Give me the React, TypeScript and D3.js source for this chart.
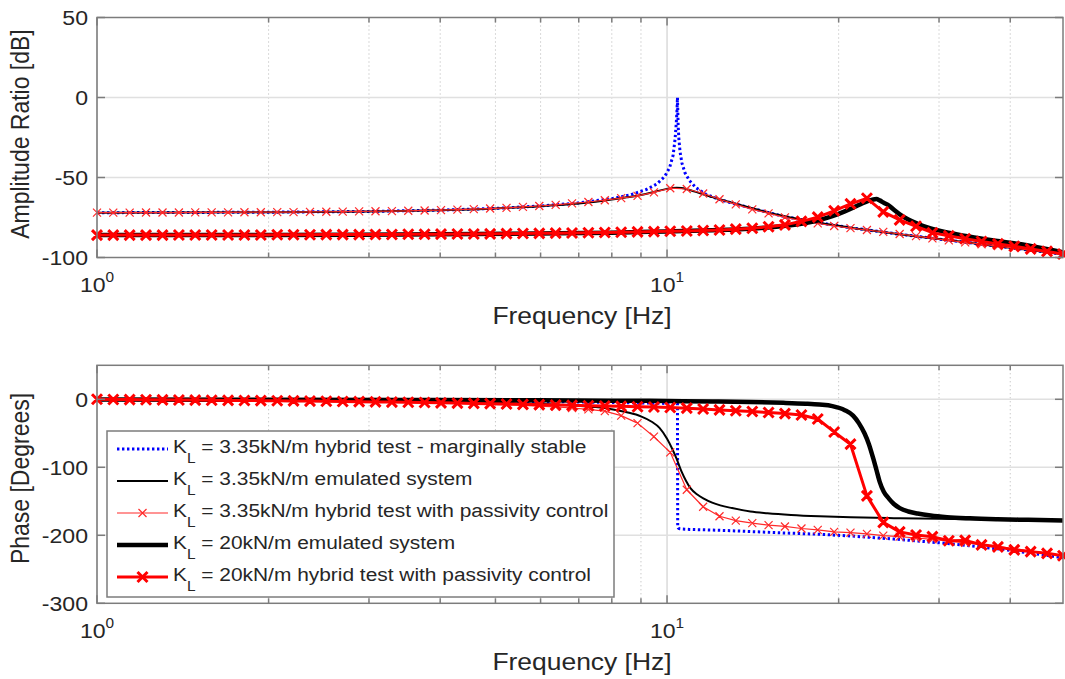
import React from 'react';
import * as d3 from 'd3';

// frequency points of the hybrid test runs [Hz]
const freqGrid = [
  1.0, 1.068, 1.141, 1.219, 1.303, 1.392, 1.487, 1.589, 1.698, 1.814,
  1.938, 2.071, 2.212, 2.364, 2.525, 2.698, 2.883, 3.08, 3.291, 3.516,
  3.756, 4.013, 4.288, 4.581, 4.894, 5.229, 5.587, 5.969, 6.377, 6.813,
  7.279, 7.777, 8.309, 8.877, 9.484, 10.13, 10.83, 11.57, 12.36, 13.2,
  14.11, 15.07, 16.1, 17.21, 18.38, 19.64, 20.98, 22.42, 23.95, 25.59,
  27.34, 29.21, 31.21, 33.34, 35.62, 38.06, 40.66, 43.44, 46.41, 49.5,
];

// KL = 3.35kN/m hybrid test with passivity control
const magPCLow = [
  -72.0, -72.0, -72.0, -71.9, -71.9, -71.9, -71.8, -71.8, -71.8, -71.7,
  -71.7, -71.6, -71.6, -71.5, -71.4, -71.3, -71.2, -71.1, -71.0, -70.8,
  -70.6, -70.4, -70.1, -69.8, -69.4, -69.0, -68.4, -67.8, -67.1, -66.2,
  -65.3, -64.2, -62.9, -61.5, -59.3, -56.7, -57.2, -60.0, -63.6, -66.8,
  -69.9, -72.4, -74.9, -77.0, -78.7, -80.3, -81.6, -82.8, -84.0, -85.3,
  -86.6, -88.0, -89.3, -90.5, -91.7, -92.9, -94.1, -95.4, -96.7, -98.0,
];
const phasePCLow = [
  0, -0.2, -0.4, -0.6, -0.8, -1.0, -1.2, -1.4, -1.6, -1.8,
  -2.0, -2.3, -2.6, -2.9, -3.2, -3.5, -3.8, -4.1, -4.5, -4.9,
  -5.3, -5.8, -6.3, -6.9, -7.5, -8.2, -9.0, -10.0, -11.2, -12.8,
  -14.8, -17.5, -24, -35, -55, -78, -133, -158, -172, -178.5,
  -182, -185, -187, -190, -192, -195, -196, -198, -200.5, -202,
  -204, -206, -208.5, -211, -213.5, -216.5, -219.5, -223, -226.5, -230,
];

// KL = 20kN/m hybrid test with passivity control
const magPCHigh = [
  -86.0, -86.0, -86.0, -86.0, -86.0, -85.9, -85.9, -85.9, -85.9, -85.9,
  -85.9, -85.8, -85.8, -85.8, -85.7, -85.7, -85.7, -85.6, -85.6, -85.5,
  -85.5, -85.4, -85.3, -85.3, -85.2, -85.1, -85.0, -84.9, -84.8, -84.7,
  -84.5, -84.4, -84.2, -84.0, -83.8, -83.6, -83.4, -83.1, -82.8, -82.3,
  -81.7, -80.8, -79.6, -77.4, -74.8, -70.8, -66.5, -63.0, -71.5, -76.5,
  -80.5, -84.5, -86.5, -88.3, -90.0, -91.5, -93.0, -94.6, -96.2, -97.8,
];
const phasePCHigh = [
  0, -0.2, -0.4, -0.6, -0.8, -1.0, -1.2, -1.4, -1.6, -1.8,
  -2.0, -2.2, -2.4, -2.6, -2.9, -3.2, -3.5, -3.8, -4.1, -4.4,
  -4.8, -5.2, -5.6, -6.0, -6.4, -6.9, -7.4, -7.9, -8.4, -8.9,
  -9.4, -9.9, -10.4, -10.9, -11.4, -12.0, -13.0, -14.2, -15.6, -16.8,
  -18.0, -19.5, -21.0, -23.0, -29, -48, -66, -142, -181, -195,
  -199.5, -202, -208, -207.5, -214, -217, -221.5, -224, -226.5, -230,
];

// KL = 3.35kN/m emulated system
const freqEmuLow = [
  1, 2, 3, 4, 5, 6, 7, 7.5, 8, 8.5, 9, 9.4, 9.7, 10, 10.2, 10.4, 10.6, 10.8,
  11, 11.3, 11.6, 12, 12.4, 13, 14, 15, 16.5, 18.5, 21, 25, 30, 35, 40, 45, 49.5,
];
const magEmuLow = [
  -72, -71.7, -71.2, -70.4, -69.3, -67.9, -66.2, -65.1, -63.8, -62.4,
  -60.9, -59.4, -58.2, -57.1, -56.6, -56.4, -56.6, -57.2, -58.0, -59.3,
  -60.6, -62.2, -63.7, -65.7, -68.9, -71.8, -75.0, -78.3, -81.4, -85.0,
  -88.5, -91.4, -93.9, -96.1, -98.0,
];
const phaseEmuLow = [
  -0.8, -1.7, -2.7, -3.8, -5.0, -6.8, -9.5, -11.5, -14.5, -19,
  -25, -33, -42, -58, -72, -88, -106, -120, -131, -140,
  -146, -152, -156, -160, -165, -167.5, -170, -172, -173.5, -174.8,
  -175.8, -176.5, -177, -177.5, -178,
];

// KL = 20kN/m emulated system
const freqEmuHigh = [
  1, 2, 4, 6, 8, 10, 12, 14, 16, 17.5, 18.5, 19.5, 20.5, 21.2, 21.7, 22.2,
  22.6, 23, 23.3, 23.6, 24, 24.5, 25, 25.6, 26.5, 27.5, 29, 31, 34, 38, 43, 49.5,
];
const magEmuHigh = [
  -86, -85.9, -85.5, -85.0, -84.5, -83.7, -83.0, -82.0, -80.3, -78.4,
  -76.6, -74.2, -71.2, -68.9, -67.2, -65.6, -64.5, -63.7, -63.5, -64.3,
  -65.8, -67.5, -70.2, -73.0, -76.3, -78.9, -81.8, -84.3, -87.0, -89.7,
  -92.5, -96.8,
];
const phaseEmuHigh = [
  -0.3, -0.6, -1.0, -1.5, -2.0, -2.5, -3.2, -4.0, -5.2, -6.5,
  -7.8, -10, -16, -24, -35, -50, -66, -87, -104, -121,
  -136, -146, -154, -160, -165, -168, -171, -173.3, -175, -176.3,
  -177.3, -178.2,
];

// KL = 3.35kN/m hybrid test - marginally stable
const freqMarginal = [
  1, 2, 3, 4, 5, 6, 7, 8, 8.6, 9.2, 9.6, 9.9, 10.1, 10.25, 10.33, 10.38, 10.41,
  10.43, 10.44, 10.46, 10.49, 10.54, 10.62, 10.75, 10.95, 11.25, 11.7, 12.3,
  13, 14, 16, 18.5, 21, 25, 30, 35, 40, 45, 49.5,
];
const magMarginal = [
  -72, -71.7, -71.2, -70.4, -69.3, -67.8, -65.9, -63.2, -61, -57.5,
  -54, -49.5, -44, -36, -26, -16, -8, 0, -6, -18,
  -26, -34, -41, -47, -52, -56.5, -60.5, -63.5, -66, -69,
  -74.3, -78.3, -81.4, -85.0, -88.5, -91.4, -93.9, -96.1, -98.0,
];
const phaseMarginal = [
  -0.5, -1, -1.5, -2, -2.8, -3.4, -4, -4.8, -5.2, -5.5,
  -5.8, -6, -6, -6, -6, -6, -6, -6, -187, -189,
  -190, -190.5, -190.8, -191, -191.3, -191.6, -192, -192.6, -193.3, -194.5,
  -196.5, -198.5, -201, -205.5, -211, -216.5, -222, -228, -233,
];

const legendLabels = [
  '= 3.35kN/m hybrid test - marginally stable',
  '= 3.35kN/m emulated system',
  '= 3.35kN/m hybrid test with passivity control',
  '= 20kN/m emulated system',
  '= 20kN/m hybrid test with passivity control',
];
const magTicks = [50, 0, -50, -100];
const phaseTicks = [0, -100, -200, -300];
const minorFreqs = [2, 3, 4, 5, 6, 7, 8, 9, 20, 30, 40];
const majorFreqs = [1, 10];

const W = 1065;
const H = 679;
const FONT = '"Liberation Sans", Arial, Helvetica, sans-serif';
const TXT = '#262626';
const AX = '#7c7c7c';

const x = d3.scaleLog().domain([1, 49.5]).range([97, 1063]);

type Style = { color: string; width: number; dash?: string; marker?: number; markerWidth?: number; smooth?: boolean };
const styles: Style[] = [
  { color: '#0000ff', width: 3, dash: '2.4,2.6' },
  { color: '#000000', width: 2, smooth: true },
  { color: '#ff2a2a', width: 1.2, marker: 4, markerWidth: 1.2 },
  { color: '#000000', width: 4.5, smooth: true },
  { color: '#ff0000', width: 3, marker: 5, markerWidth: 3 },
];

const magSeries = [
  { freq: freqMarginal, values: magMarginal },
  { freq: freqEmuLow, values: magEmuLow },
  { freq: freqGrid, values: magPCLow },
  { freq: freqEmuHigh, values: magEmuHigh },
  { freq: freqGrid, values: magPCHigh },
];
const phaseSeries = [
  { freq: freqMarginal, values: phaseMarginal },
  { freq: freqEmuLow, values: phaseEmuLow },
  { freq: freqGrid, values: phasePCLow },
  { freq: freqEmuHigh, values: phaseEmuHigh },
  { freq: freqGrid, values: phasePCHigh },
];

function xMark(cx: number, cy: number, s: number) {
  return `M${cx - s},${cy - s}L${cx + s},${cy + s}M${cx - s},${cy + s}L${cx + s},${cy - s}`;
}

function Legend() {
  const bx = 107, by = 431, bw = 507, bh = 166;
  return (
    <g>
      <rect x={bx} y={by} width={bw} height={bh} fill="#fff" stroke={AX} strokeWidth={1.5} />
      {legendLabels.map((lab, i) => {
        const st = styles[i];
        const ly = 449 + i * 32;
        return (
          <g key={i}>
            <line x1={117} x2={168} y1={ly} y2={ly} stroke={st.color} strokeWidth={st.width}
              strokeDasharray={st.dash} />
            {st.marker && (
              <path d={xMark(142.5, ly, st.marker)} stroke={st.color} strokeWidth={st.markerWidth} fill="none" />
            )}
            <g transform={`translate(173,${ly + 4}) scale(1.1,1)`}>
              <text fontSize={19} fill={TXT}>
                K<tspan dy={10} fontSize={14}>L</tspan>
                <tspan dy={-10} fontSize={19}>{' ' + lab}</tspan>
              </text>
            </g>
          </g>
        );
      })}
    </g>
  );
}

function Panel({ id, top, bottom, domain, ticks, label, labelY, series, legend }: any) {
  const y = d3.scaleLinear().domain(domain).range([bottom, top]);
  const [left, right] = x.range();
  return (
    <g>
      <defs>
        <clipPath id={`clip-${id}`}>
          <rect x={left} y={top} width={right - left} height={bottom - top} />
        </clipPath>
      </defs>
      {/* grid */}
      {minorFreqs.map((f) => (
        <line key={'mg' + f} x1={x(f)} x2={x(f)} y1={top} y2={bottom}
          stroke="#b4b4b4" strokeWidth={1} strokeDasharray="1,3" />
      ))}
      {majorFreqs.map((f) => (
        <line key={'g' + f} x1={x(f)} x2={x(f)} y1={top} y2={bottom} stroke="#dadada" strokeWidth={1.5} />
      ))}
      {ticks.filter((t: number) => t > domain[0] && t < domain[1]).map((t: number) => (
        <line key={'hg' + t} x1={left} x2={right} y1={y(t)} y2={y(t)} stroke="#e0e0e0" strokeWidth={1.5} />
      ))}
      {/* data */}
      {series.map((s: any, i: number) => {
        const st = styles[i];
        const gen = d3.line<number>()
          .x((_, k) => x(s.freq[k]))
          .y((v) => y(v))
          .curve(st.smooth ? d3.curveMonotoneX : d3.curveLinear);
        return (
          <g key={i}>
            <path d={gen(s.values) || ''} clipPath={`url(#clip-${id})`} fill="none" stroke={st.color}
              strokeWidth={st.width} strokeDasharray={st.dash} strokeLinejoin="round" />
            {st.marker && (
              <path d={s.values.map((v: number, k: number) => xMark(x(s.freq[k]), y(v), st.marker!)).join('')}
                fill="none" stroke={st.color} strokeWidth={st.markerWidth} />
            )}
          </g>
        );
      })}
      {/* box */}
      <rect x={left} y={top} width={right - left} height={bottom - top} fill="none" stroke={AX} strokeWidth={1.5} />
      {/* x ticks */}
      {majorFreqs.map((f) => (
        <g key={'xt' + f}>
          <line x1={x(f)} x2={x(f)} y1={bottom} y2={bottom - 8} stroke={AX} strokeWidth={1.5} />
          <line x1={x(f)} x2={x(f)} y1={top} y2={top + 8} stroke={AX} strokeWidth={1.5} />
          <g transform={`translate(${x(f)},${bottom + 34.5}) scale(1.1,1)`}>
            <text textAnchor="middle" fontSize={21} fill={TXT}>
              10<tspan dy={-10} fontSize={14}>{Math.round(Math.log10(f))}</tspan>
            </text>
          </g>
        </g>
      ))}
      {minorFreqs.map((f) => (
        <g key={'mt' + f}>
          <line x1={x(f)} x2={x(f)} y1={bottom} y2={bottom - 5} stroke={AX} strokeWidth={1.5} />
          <line x1={x(f)} x2={x(f)} y1={top} y2={top + 5} stroke={AX} strokeWidth={1.5} />
        </g>
      ))}
      {/* y ticks */}
      {ticks.map((t: number) => (
        <g key={'yt' + t}>
          <line x1={left} x2={left + 8} y1={y(t)} y2={y(t)} stroke={AX} strokeWidth={1.5} />
          <line x1={right} x2={right - 8} y1={y(t)} y2={y(t)} stroke={AX} strokeWidth={1.5} />
          <g transform={`translate(88,${y(t) + 7.5}) scale(1.1,1)`}>
            <text textAnchor="end" fontSize={21} fill={TXT}>{t}</text>
          </g>
        </g>
      ))}
      {/* labels */}
      <g transform={`translate(582,${bottom + 66.5}) scale(1.15,1)`}>
        <text textAnchor="middle" fontSize={23} fill={TXT}>Frequency [Hz]</text>
      </g>
      <g transform={`translate(29,${labelY}) scale(1.15,1) rotate(-90)`}>
        <text textAnchor="middle" fontSize={23} fill={TXT}>{label}</text>
      </g>
      {legend && <Legend />}
    </g>
  );
}

export default function App() {
  return (
    <svg width={W} height={H} fontFamily={FONT}
      style={{ position: 'absolute', left: 0, top: 0, background: '#fff' }}>
      <rect width={W} height={H} fill="#fff" />
      <Panel id="mag" top={17.5} bottom={257.5} domain={[-100, 50]} ticks={magTicks}
        label="Amplitude Ratio [dB]" labelY={134} series={magSeries} />
      <Panel id="phase" top={365.3} bottom={603.3} domain={[-300, 50]} ticks={phaseTicks}
        label="Phase [Degrees]" labelY={478.5} series={phaseSeries} legend />
    </svg>
  );
}
